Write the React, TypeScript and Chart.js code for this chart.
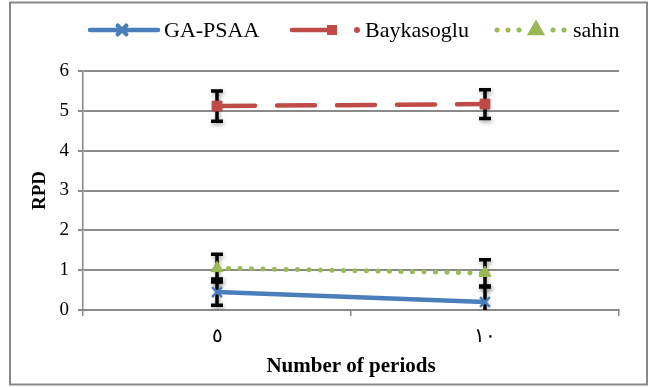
import React, { useEffect, useRef } from "react";
import { Chart, registerables } from "chart.js";
import { drawPoint } from "chart.js/helpers";

Chart.register(...registerables);

// ---- data ----
const categories = ["٥", "١٠"];
const gaPsaa = [0.45, 0.2];
const baykasoglu = [5.12, 5.17];
const sahin = [1.05, 0.93];
const gaPsaaErr = [0.33, 0.38];
const baykasogluErr = [0.38, 0.36];
const sahinErr = [0.35, 0.33];
const yMin = 0;
const yMax = 6;
const yStep = 1;
const seriesNames = ["GA-PSAA", "Baykasoglu", "sahin"];
const xTitle = "Number of periods";
const yTitle = "RPD";

const BLUE = "#4A7EBB";
const RED = "#BE4B48";
const GREEN = "#98B954";
const GRID = "#8A8A8A";
const FONT = "'Liberation Serif', 'Times New Roman', serif";

const errors = [gaPsaaErr, baykasogluErr, sahinErr];

const frame = {
  id: "frame",
  beforeDraw(chart: any) {
    const { ctx, width, height } = chart;
    ctx.save();
    ctx.fillStyle = "#fff";
    ctx.fillRect(0, 0, width, height);
    ctx.strokeStyle = "#888";
    ctx.lineWidth = 2;
    ctx.strokeRect(10, 2.5, 637, 382);
    ctx.restore();
  },
};

const errorBars = {
  id: "errorBars",
  beforeDatasetsDraw(chart: any) {
    const { ctx, chartArea } = chart;
    const xs = chart.scales.x;
    const ys = chart.scales.y;
    ctx.save();
    ctx.beginPath();
    ctx.rect(chartArea.left, chartArea.top - 20, chartArea.right - chartArea.left, chartArea.bottom - chartArea.top + 20);
    ctx.clip();
    ctx.strokeStyle = "#000";
    ctx.lineWidth = 3.5;
    ctx.lineCap = "butt";
    ctx.shadowColor = "rgba(0,0,0,0.35)";
    ctx.shadowBlur = 4;
    ctx.shadowOffsetX = 1;
    ctx.shadowOffsetY = 2;
    chart.data.datasets.forEach((ds: any, di: number) => {
      const err = errors[di];
      ds.data.forEach((v: number, i: number) => {
        const x = xs.getPixelForValue(i);
        const yt = ys.getPixelForValue(v + err[i]);
        const yb = Math.min(ys.getPixelForValue(v - err[i]), chartArea.bottom);
        ctx.beginPath();
        ctx.moveTo(x, yt);
        ctx.lineTo(x, yb);
        ctx.moveTo(x - 6, yt);
        ctx.lineTo(x + 6, yt);
        if (v - err[i] >= yMin) {
          ctx.moveTo(x - 6, yb);
          ctx.lineTo(x + 6, yb);
        }
        ctx.stroke();
      });
    });
    ctx.restore();
  },
};

const customLegend = {
  id: "customLegend",
  afterDraw(chart: any) {
    const { ctx } = chart;
    const y = 30;
    ctx.save();
    ctx.font = `22px ${FONT}`;
    ctx.textBaseline = "middle";
    ctx.fillStyle = "#000";
    // GA-PSAA
    ctx.strokeStyle = BLUE;
    ctx.lineWidth = 4.5;
    ctx.lineCap = "round";
    ctx.beginPath();
    ctx.moveTo(90, y);
    ctx.lineTo(158, y);
    ctx.stroke();
    ctx.strokeStyle = BLUE;
    drawPoint(ctx, { pointStyle: "crossRot", radius: 6, rotation: 0, borderWidth: 2.5 } as any, 122, y);
    ctx.fillStyle = "#000";
    ctx.fillText(seriesNames[0], 164, y + 1);
    // Baykasoglu
    ctx.strokeStyle = RED;
    ctx.lineWidth = 4.5;
    ctx.beginPath();
    ctx.moveTo(292, y);
    ctx.lineTo(330, y);
    ctx.stroke();
    ctx.fillStyle = RED;
    ctx.fillRect(327, y - 5, 10, 10);
    ctx.beginPath();
    ctx.arc(357, y, 3, 0, Math.PI * 2);
    ctx.fill();
    ctx.fillStyle = "#000";
    ctx.fillText(seriesNames[1], 365, y + 1);
    // sahin
    ctx.fillStyle = GREEN;
    [497, 508, 519, 553, 564].forEach((px) => {
      ctx.beginPath();
      ctx.arc(px, y, 2.5, 0, Math.PI * 2);
      ctx.fill();
    });
    ctx.strokeStyle = GREEN;
    drawPoint(ctx, { pointStyle: "triangle", radius: 6, rotation: 0, borderWidth: 1 } as any, 536, y);
    ctx.fillStyle = "#000";
    ctx.fillText(seriesNames[2], 573, y + 1);
    ctx.restore();
  },
};

export default function App() {
  const ref = useRef<HTMLCanvasElement | null>(null);
  useEffect(() => {
    document.body.style.margin = "0";
    const canvas = ref.current;
    if (!canvas) return;
    const chart = new Chart(canvas, {
      type: "line",
      data: {
        labels: categories,
        datasets: [
          {
            label: seriesNames[0],
            data: gaPsaa,
            borderColor: BLUE,
            backgroundColor: BLUE,
            borderWidth: 4.5,
            borderCapStyle: "round",
            pointStyle: "crossRot",
            pointRadius: 7,
            pointBorderWidth: 2.5,
            pointBorderColor: BLUE,
            tension: 0,
          },
          {
            label: seriesNames[1],
            data: baykasoglu,
            borderColor: RED,
            backgroundColor: RED,
            borderWidth: 4.5,
            borderCapStyle: "round",
            borderDash: [38, 22],
            pointStyle: "rect",
            pointRadius: 7,
            pointBorderWidth: 1,
            pointBorderColor: RED,
            pointBackgroundColor: RED,
            tension: 0,
          },
          {
            label: seriesNames[2],
            data: sahin,
            borderColor: GREEN,
            backgroundColor: GREEN,
            borderWidth: 5,
            borderCapStyle: "round",
            borderDash: [0, 11.5],
            pointStyle: "triangle",
            pointRadius: 7,
            pointBorderWidth: 1,
            pointBorderColor: GREEN,
            pointBackgroundColor: GREEN,
            tension: 0,
          },
        ],
      },
      options: {
        responsive: false,
        animation: false,
        events: [],
        layout: { padding: { top: 71, right: 34, bottom: 0, left: 0 } },
        plugins: {
          legend: { display: false },
          tooltip: { enabled: false },
        },
        scales: {
          x: {
            type: "category",
            offset: true,
            grid: {
              offset: true,
              drawOnChartArea: false,
              drawTicks: true,
              tickLength: 6,
              color: GRID,
              lineWidth: 1.5,
            },
            border: { display: true, color: GRID, width: 2 },
            ticks: { color: "#000", font: { family: FONT, size: 20 }, padding: 9 },
            title: {
              display: true,
              text: xTitle,
              color: "#000",
              font: { family: FONT, size: 21, weight: "bold" },
              padding: { top: 0, bottom: 8 },
            },
            afterFit(scale: any) {
              scale.height = 77;
            },
          },
          y: {
            min: yMin,
            max: yMax,
            ticks: {
              stepSize: yStep,
              color: "#000",
              font: { family: FONT, size: 19 },
              padding: 9,
            },
            grid: {
              color: GRID,
              lineWidth: 2,
              drawTicks: true,
              tickLength: 5,
            },
            border: { display: true, color: GRID, width: 1.5 },
            title: {
              display: true,
              text: yTitle,
              color: "#000",
              font: { family: FONT, size: 19, weight: "bold" },
              padding: { top: 29, bottom: 0 },
            },
            afterFit(scale: any) {
              scale.width = 83;
            },
          },
        },
      },
      plugins: [frame, errorBars, customLegend],
    } as any);
    return () => chart.destroy();
  }, []);
  return (
    <div style={{ width: 653, height: 387 }}>
      <canvas ref={ref} width={653} height={387} style={{ display: "block" }} />
    </div>
  );
}
